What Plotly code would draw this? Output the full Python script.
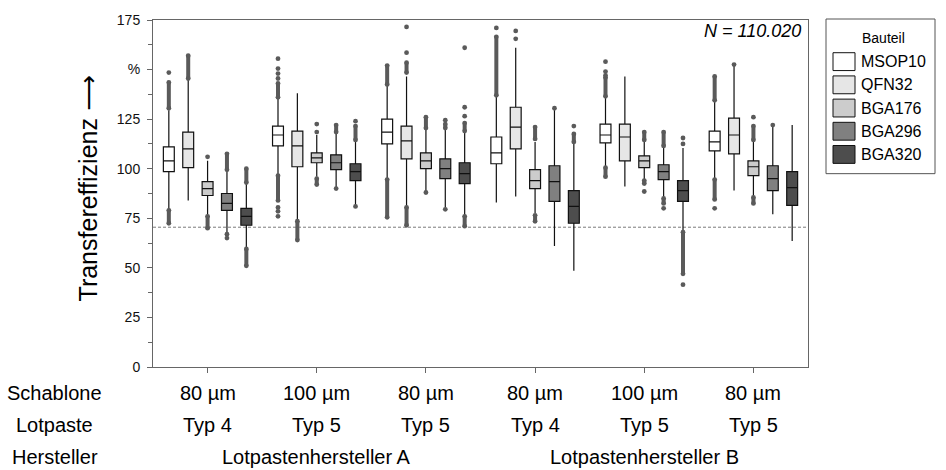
import plotly.graph_objects as go

# ---- data -------------------------------------------------------------
components = ["MSOP10", "QFN32", "BGA176", "BGA296", "BGA320"]

schablone = ["80 µm", "100 µm", "80 µm", "80 µm", "100 µm", "80 µm"]
lotpaste = ["Typ 4", "Typ 5", "Typ 5", "Typ 4", "Typ 5", "Typ 5"]
hersteller = ["Lotpastenhersteller A", "Lotpastenhersteller B"]
hersteller_groups = [[0, 1, 2], [3, 4, 5]]

row_titles = ["Schablone", "Lotpaste", "Hersteller"]
sample_size = "N = 110.020"
limit_value = 70.5

# box statistics per component, one value per process variant
q1 = {
    "MSOP10": [98.5, 111.5, 112.5, 102.5, 113.0, 109.0],
    "QFN32":  [100.5, 101.0, 105.0, 110.0, 104.0, 107.5],
    "BGA176": [86.5, 103.0, 100.0, 90.0, 100.5, 96.5],
    "BGA296": [79.0, 99.5, 95.0, 83.5, 94.5, 89.0],
    "BGA320": [71.5, 94.0, 92.5, 72.5, 83.5, 81.5],
}
median = {
    "MSOP10": [104.0, 117.0, 118.5, 108.0, 117.0, 113.5],
    "QFN32":  [110.0, 111.5, 114.0, 121.0, 116.0, 117.0],
    "BGA176": [90.0, 105.5, 104.0, 94.0, 104.0, 101.0],
    "BGA296": [82.5, 103.0, 100.0, 93.5, 98.5, 95.0],
    "BGA320": [76.0, 98.5, 97.5, 81.0, 89.0, 90.5],
}
q3 = {
    "MSOP10": [111.0, 121.5, 125.0, 116.0, 122.5, 119.0],
    "QFN32":  [118.5, 119.0, 121.5, 131.0, 122.5, 125.5],
    "BGA176": [93.5, 108.0, 108.0, 99.5, 106.5, 104.0],
    "BGA296": [87.5, 107.0, 105.0, 101.5, 102.0, 101.5],
    "BGA320": [80.0, 102.5, 103.0, 89.0, 94.0, 98.5],
}
lower_whisker = {
    "MSOP10": [79.5, 97.0, 95.0, 83.0, 101.0, 95.0],
    "QFN32":  [84.0, 74.0, 81.0, 86.0, 91.0, 89.0],
    "BGA176": [76.5, 96.0, 88.5, 77.5, 94.5, 86.0],
    "BGA296": [68.0, 90.5, 80.5, 61.0, 85.5, 77.0],
    "BGA320": [60.0, 81.5, 76.5, 48.5, 68.5, 63.5],
}
upper_whisker = {
    "MSOP10": [129.5, 135.5, 142.0, 136.5, 136.0, 134.0],
    "QFN32":  [145.0, 138.0, 146.5, 161.0, 146.5, 152.0],
    "BGA176": [104.0, 117.0, 120.0, 113.5, 113.5, 113.5],
    "BGA296": [99.0, 118.0, 120.0, 130.0, 111.0, 121.5],
    "BGA320": [92.5, 114.0, 118.5, 112.5, 110.5, 122.0],
}

# single outliers
outlier_points = {
    "MSOP10": [[148.5], [155.5, 150.5, 148.0, 145.5, 80.5, 78.5, 76.0], [], [171.0], [154.0, 149.0, 147.0], [80.0]],
    "QFN32":  [[], [], [171.5, 158.5], [169.5, 165.5], [], [152.5]],
    "BGA176": [[106.0], [122.5, 118.5], [88.0], [], [88.5], [126.0]],
    "BGA296": [[67.0, 65.0], [90.0], [124.5, 79.5], [130.5], [80.0], [122.0]],
    "BGA320": [[], [124.0, 81.0], [161.0, 131.0, 126.5], [121.5], [115.5, 112.5, 41.5], []],
}
# densely packed outlier ranges (low, high)
outlier_bands = {
    "MSOP10": [[(130.5, 143.5), (72.5, 79.0)], [(136.0, 143.0), (84.0, 96.5)], [(142.5, 152.0), (75.5, 94.5)],
               [(137.0, 166.5)], [(136.5, 146.0), (96.0, 100.5)], [(134.5, 146.5), (84.5, 94.5)]],
    "QFN32":  [[(145.5, 157.0)], [(64.0, 73.5)], [(148.5, 153.5), (71.5, 80.5)], [], [], []],
    "BGA176": [[(70.0, 76.0)], [(92.0, 95.0)], [(120.5, 126.0)], [(115.0, 121.0), (73.5, 76.5)],
               [(114.5, 118.5), (92.5, 94.0)], [(114.5, 121.5), (82.5, 85.5)]],
    "BGA296": [[(99.5, 107.5)], [(118.5, 122.0)], [(120.5, 122.5)], [], [(111.5, 118.5), (82.5, 85.0)], []],
    "BGA320": [[(93.0, 100.0), (51.0, 59.5)], [(114.5, 121.5)], [(119.0, 123.0), (71.0, 76.0)],
               [(113.5, 117.5)], [(47.0, 68.0)], []],
}

y_ticks = [0, 25, 50, 75, 100, 125, 150, 175]
y_ticktext = ["0", "25", "50", "75", "100", "125", "%", "175"]
y_minor = [12.5, 37.5, 62.5, 87.5, 112.5, 137.5, 162.5]

# ---- styling ----------------------------------------------------------
FONT = "Liberation Sans, Arial, sans-serif"
fills = ["#ffffff", "#e6e6e6", "#cccccc", "#808080", "#4d4d4d"]
offsets = [-0.355, -0.1775, 0.0, 0.1775, 0.355]
outlier_color = "#5a5a5a"
n_groups = len(schablone)

fig = go.Figure()

for ci, comp in enumerate(components):
    xs = [g + offsets[ci] for g in range(n_groups)]

    # outlier ranges drawn as thick columns
    bx, by = [], []
    for g in range(n_groups):
        for lo, hi in outlier_bands[comp][g]:
            bx += [xs[g], xs[g], None]
            by += [lo, hi, None]
    if bx:
        fig.add_trace(go.Scatter(
            x=bx, y=by, mode="lines+markers",
            line=dict(color=outlier_color, width=4),
            marker=dict(color=outlier_color, size=4.8),
            showlegend=False, hoverinfo="skip"))

    # single outliers
    px, py = [], []
    for g in range(n_groups):
        for v in outlier_points[comp][g]:
            px.append(xs[g])
            py.append(v)
    if px:
        fig.add_trace(go.Scatter(
            x=px, y=py, mode="markers",
            marker=dict(color=outlier_color, size=4.8),
            showlegend=False, hoverinfo="skip"))

    fig.add_trace(go.Box(
        x=xs, q1=q1[comp], median=median[comp], q3=q3[comp],
        lowerfence=lower_whisker[comp], upperfence=upper_whisker[comp],
        width=0.1, whiskerwidth=0, boxpoints=False,
        fillcolor=fills[ci], line=dict(color="#111111", width=1.2),
        name=comp, showlegend=False))

# limit line
fig.add_shape(type="line", xref="paper", x0=0, x1=1, yref="y", y0=limit_value, y1=limit_value,
              line=dict(color="#7a7a7a", width=1, dash="3px,2px"), layer="below")

annotations = []

# axis title
annotations.append(dict(text="Transfereffizienz <span style='font-family:DejaVu Sans'>⟶</span>",
                        xref="paper", yref="paper", x=-0.099, y=0.515,
                        textangle=-90, showarrow=False, xanchor="center", yanchor="middle",
                        font=dict(size=25, family=FONT, color="#000")))

# sample size
annotations.append(dict(text="<i>" + sample_size + "</i>", xref="paper", yref="paper", x=0.993, y=0.969,
                        showarrow=False, xanchor="right", yanchor="middle",
                        font=dict(size=18, family=FONT, color="#000")))

# category rows below the axis
row_y = [-0.074, -0.166, -0.26]
for title, yy in zip(row_titles, row_y):
    annotations.append(dict(text=title, xref="paper", yref="paper", x=-0.150, y=yy, showarrow=False,
                            xanchor="center", yanchor="middle", font=dict(size=20, family=FONT, color="#000")))
for g in range(n_groups):
    annotations.append(dict(text=schablone[g], xref="x", yref="paper", x=g, y=row_y[0], showarrow=False,
                            xanchor="center", yanchor="middle", font=dict(size=20, family=FONT, color="#000")))
    annotations.append(dict(text=lotpaste[g], xref="x", yref="paper", x=g, y=row_y[1], showarrow=False,
                            xanchor="center", yanchor="middle", font=dict(size=20, family=FONT, color="#000")))
for name, grp in zip(hersteller, hersteller_groups):
    annotations.append(dict(text=name, xref="x", yref="paper", x=sum(grp) / len(grp), y=row_y[2],
                            showarrow=False, xanchor="center", yanchor="middle",
                            font=dict(size=20, family=FONT, color="#000")))

# legend (drawn in pixel layout converted to paper units)
L, T, W, H = 153, 17, 655, 350
def px_x(p):
    return (p - L) / W
def px_y(p):
    return (T + H - p) / H

shapes = []
shapes.append(dict(type="rect", xref="paper", yref="paper", x0=px_x(826), x1=px_x(935),
                   y0=px_y(172), y1=px_y(16), line=dict(color="#555", width=1), fillcolor="white"))
annotations.append(dict(text="Bauteil", xref="paper", yref="paper", x=px_x(883), y=px_y(35),
                        showarrow=False, xanchor="center", yanchor="middle",
                        font=dict(size=14, family=FONT, color="#000")))
for ci, comp in enumerate(components):
    cy = 59 + ci * 23.4
    shapes.append(dict(type="rect", xref="paper", yref="paper", x0=px_x(833), x1=px_x(855),
                       y0=px_y(cy + 9), y1=px_y(cy - 9), line=dict(color="#111", width=1),
                       fillcolor=fills[ci]))
    annotations.append(dict(text=comp, xref="paper", yref="paper", x=px_x(859), y=px_y(cy),
                            showarrow=False, xanchor="left", yanchor="middle",
                            font=dict(size=16, family=FONT, color="#000")))

fig.update_layout(
    width=946, height=470,
    margin=dict(l=153, r=138, t=17, b=103),
    paper_bgcolor="white", plot_bgcolor="white",
    font=dict(family=FONT, color="#000"),
    showlegend=False,
    annotations=annotations,
    shapes=fig.layout.shapes + tuple(shapes),
    xaxis=dict(range=[-0.5, n_groups - 0.5], tickvals=list(range(n_groups)), showticklabels=False,
               ticks="outside", ticklen=5, tickcolor="#666", showgrid=False, zeroline=False,
               showline=True, mirror=True, linecolor="#666", linewidth=1),
    yaxis=dict(range=[0, 175], tickvals=y_ticks, ticktext=y_ticktext, ticks="outside", ticklen=5,
               tickcolor="#666", tickfont=dict(size=14, family=FONT, color="#111"),
               minor=dict(tickvals=y_minor, ticks="outside", ticklen=4, tickcolor="#666"),
               showgrid=False, zeroline=False, showline=True, mirror=True, linecolor="#666",
               linewidth=1, ticklabelstandoff=4),
)

fig.write_html("out.html")
